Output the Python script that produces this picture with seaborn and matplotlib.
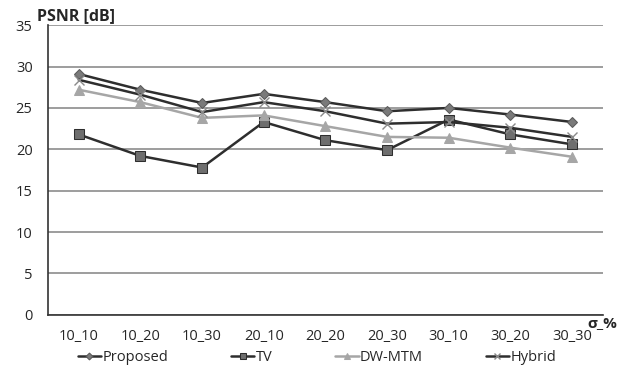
import matplotlib
matplotlib.use("Agg")
import matplotlib.pyplot as plt
import numpy as np
import pandas as pd
import seaborn as sns

categories = ["10_10", "10_20", "10_30", "20_10", "20_20", "20_30", "30_10", "30_20", "30_30"]
proposed = [29.1, 27.2, 25.6, 26.7, 25.7, 24.6, 25.0, 24.2, 23.3]
tv = [21.8, 19.2, 17.8, 23.3, 21.1, 19.9, 23.6, 21.8, 20.6]
dw_mtm = [27.2, 25.7, 23.8, 24.1, 22.8, 21.5, 21.4, 20.2, 19.1]
hybrid = [28.4, 26.6, 24.5, 25.7, 24.6, 23.1, 23.3, 22.6, 21.5]

series = {
    "Proposed": proposed,
    "TV": tv,
    "DW-MTM": dw_mtm,
    "Hybrid": hybrid,
}
styles = {
    "Proposed": dict(color="#2e2e2e", marker="D", markersize=5, markerfacecolor="#7a7a7a",
                     markeredgecolor="#5a5a5a"),
    "TV": dict(color="#2e2e2e", marker="s", markersize=7, markerfacecolor="#6e6e6e",
               markeredgecolor="#2e2e2e"),
    "DW-MTM": dict(color="#a6a6a6", marker="^", markersize=7, markerfacecolor="#a6a6a6",
                   markeredgecolor="#a6a6a6"),
    "Hybrid": dict(color="#2e2e2e", marker="x", markersize=7, markeredgecolor="#8a8a8a",
                   markeredgewidth=1.0),
}

df = pd.concat([pd.DataFrame({"sigma": categories, "psnr": v, "method": k})
                for k, v in series.items()], ignore_index=True)

sns.set_style("white")
plt.rcParams["font.family"] = ["Open Sans", "DejaVu Sans"]

fig, ax = plt.subplots(figsize=(6.3, 3.7), dpi=100)
fig.subplots_adjust(left=0.076, right=0.957, top=0.932, bottom=0.149)

for name in series:
    sub = df[df["method"] == name]
    sns.lineplot(data=sub, x="sigma", y="psnr", ax=ax, sort=False, label=name,
                 linewidth=1.8, **styles[name])

ax.set_ylim(0, 35)
ax.set_yticks(np.arange(0, 36, 5))
ax.set_xlim(-0.5, len(categories) - 0.5)
ax.set_xticks(range(len(categories)))
ax.set_xticklabels(categories)
ax.set_xticks(np.arange(-0.5, len(categories), 1), minor=True)
ax.tick_params(axis="x", which="major", length=0, pad=10, labelsize=10.5)
ax.tick_params(axis="x", which="minor", length=5, width=1, color="#333333", direction="out")
ax.tick_params(axis="y", which="major", length=5, width=1, color="#333333", labelsize=10.5,
               direction="out", pad=6)
ax.yaxis.grid(True, color="#8c8c8c", linewidth=1.2)
ax.set_axisbelow(True)
for s in ["top", "right"]:
    ax.spines[s].set_visible(False)
for s in ["left", "bottom"]:
    ax.spines[s].set_color("#333333")
    ax.spines[s].set_linewidth(1.2)

ax.set_xlabel("")
ax.set_ylabel("")
fig.text(37 / 630, 1 - 20 / 370, "PSNR [dB]", fontsize=11.5,
         fontweight="bold", ha="left", va="baseline")
ax.text(1.025, -0.005, "σ_%", transform=ax.transAxes, fontsize=11,
        fontweight="bold", ha="right", va="top")

ax.legend(loc="upper center", bbox_to_anchor=(0.485, -0.1), ncol=4, frameon=False,
          fontsize=10.5, handlelength=1.6, handletextpad=0.1, columnspacing=4.3,
          markerscale=0.7, borderaxespad=0)

fig.savefig("out.png", dpi=100)
